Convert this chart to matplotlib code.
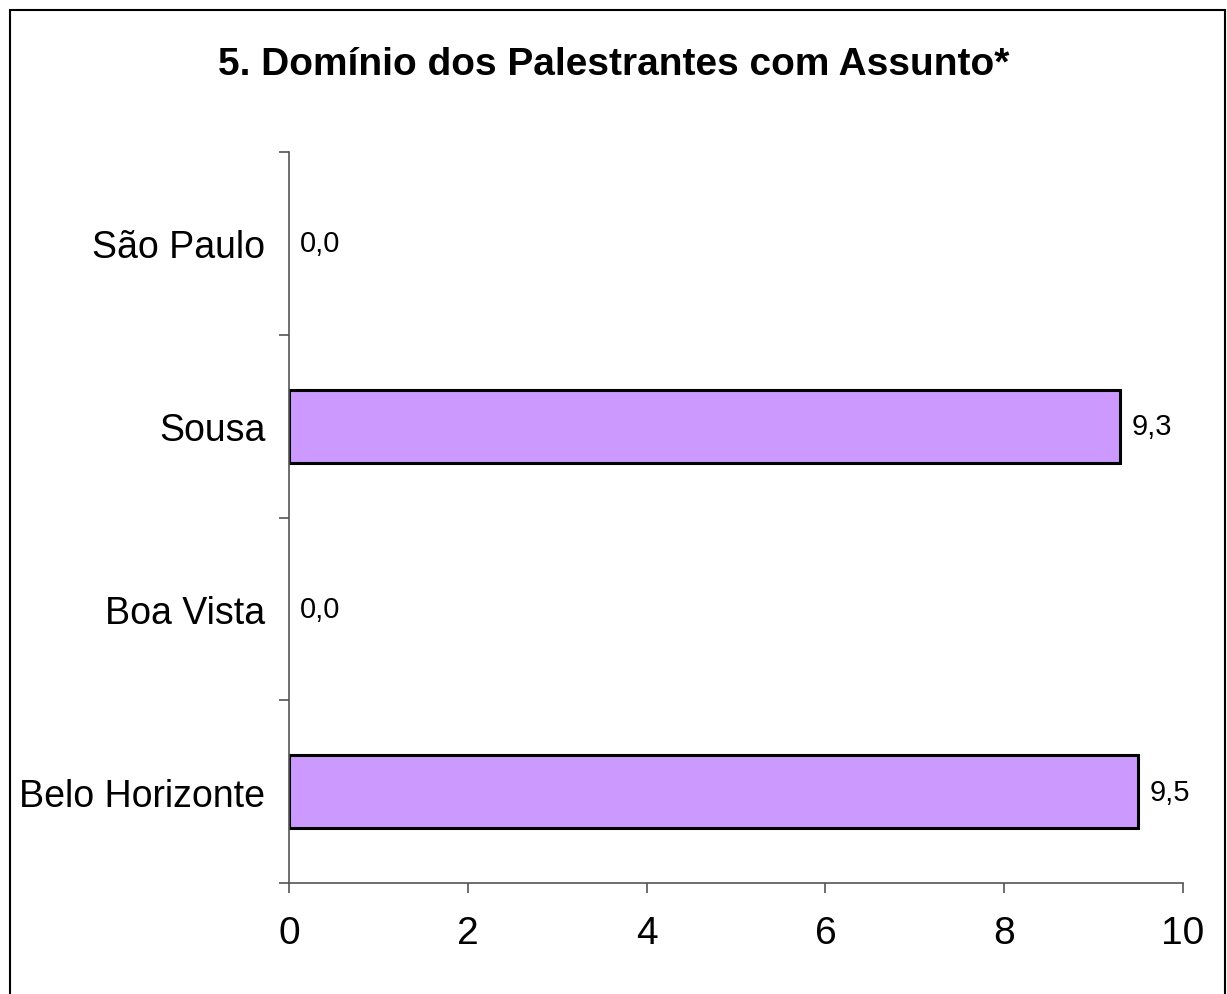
import matplotlib.pyplot as plt
from matplotlib.patches import Rectangle

# Dados (de baixo para cima)
cidades = ["Belo Horizonte", "Boa Vista", "Sousa", "São Paulo"]
notas = [9.5, 0.0, 9.3, 0.0]
titulo = "5. Domínio dos Palestrantes com Assunto*"

plt.rcParams['font.family'] = ['Liberation Sans', 'DejaVu Sans']

fig = plt.figure(figsize=(12.27, 9.95), dpi=100)
ax = fig.add_axes([289 / 1227, 1 - 884 / 995, (1183 - 289) / 1227, (884 - 153) / 995])

pos = list(range(len(cidades)))
larguras = [2.2 if v > 0 else 0 for v in notas]
ax.barh(pos, notas, height=0.4, color="#CC99FF", edgecolor="black", linewidth=larguras)

# rótulos de valor com vírgula decimal
for y, v in zip(pos, notas):
    ax.annotate(f"{v:.1f}".replace(".", ","), xy=(v, y), xytext=(8, 0),
                textcoords="offset points", ha="left", va="center", fontsize=21)

ax.set_xlim(0, 10)
ax.set_ylim(-0.5, len(cidades) - 0.5)
ax.set_xticks([0, 2, 4, 6, 8, 10])
ax.set_xticklabels(["0", "2", "4", "6", "8", "10"])
ax.set_yticks(pos)
ax.set_yticklabels(cidades)
ax.set_yticks([p - 0.5 for p in range(len(cidades) + 1)], minor=True)

axis_col = "#555555"
for s in ["top", "right"]:
    ax.spines[s].set_visible(False)
for s in ["left", "bottom"]:
    ax.spines[s].set_color(axis_col)
    ax.spines[s].set_linewidth(1.2)

ax.tick_params(axis="y", which="major", length=0, pad=17, labelsize=27)
ax.tick_params(axis="y", which="minor", length=7, width=1.2, color=axis_col)
ax.tick_params(axis="x", which="major", length=7, width=1.2, color=axis_col,
               pad=16, labelsize=28)

fig.text(0.5, 1 - 65 / 995, titulo, ha="center", va="center",
         fontsize=28, fontweight="bold")

# moldura do gráfico
fig.patches.append(Rectangle((10 / 1227, -0.05), 1215 / 1227, 1.05 - 11 / 995,
                             transform=fig.transFigure, fill=False,
                             edgecolor="black", linewidth=1.5))

fig.savefig("out.png", dpi=100, facecolor="white")
